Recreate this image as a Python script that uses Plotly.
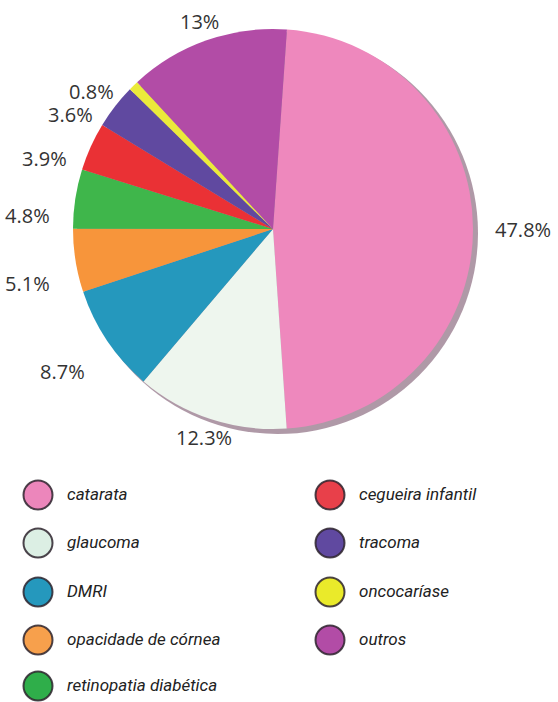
import math
import plotly.graph_objects as go

# ---- data ----
causes = ["catarata", "glaucoma", "DMRI", "opacidade de córnea", "retinopatia diabética",
          "cegueira infantil", "tracoma", "oncocaríase", "outros"]
shares = [47.8, 12.3, 8.7, 5.1, 4.8, 3.9, 3.6, 0.8, 13.0]
share_labels = ["47.8%", "12.3%", "8.7%", "5.1%", "4.8%", "3.9%", "3.6%", "0.8%", "13%"]
slice_colors = ["#ee88bd", "#eef6ee", "#2598bd", "#f7953b", "#3fb64b",
                "#ea3135", "#6049a0", "#ebea3a", "#b24ca6"]
legend_colors = ["#ec86bb", "#dcefe4", "#2598bd", "#f7a04c", "#2fae4a",
                 "#e8404a", "#6049a0", "#eaea2a", "#b24ca6"]

W, H = 558, 702
cx, cy, r = 273, 229, 200
start_deg = 4

fig = go.Figure()
fig.add_trace(go.Pie(
    labels=causes,
    values=shares,
    textinfo="none",
    marker=dict(colors=slice_colors, line=dict(width=0)),
    sort=False,
    direction="clockwise",
    rotation=start_deg,
    showlegend=False,
    hoverinfo="label+percent",
    domain=dict(x=[(cx - r) / W, (cx + r) / W], y=[(H - cy - r) / H, (H - cy + r) / H]),
))

shapes = []
# soft shadow / rim behind the pie
shapes.append(dict(type="circle", xref="paper", yref="paper", layer="below",
                   x0=(cx - r + 4) / W, x1=(cx + r + 5) / W,
                   y0=(H - cy - r - 5) / H, y1=(H - cy + r - 3) / H,
                   fillcolor="rgba(110,70,95,0.55)", line=dict(width=0)))

annotations = []
# percentage labels placed at each slice's mid-angle (derived from the values)
total = sum(shares)
cum = 0.0
R = r + 20
for val, lab in zip(shares, share_labels):
    mid = start_deg + (cum + val / 2) / total * 360.0
    cum += val
    t = math.radians(mid)
    s, c = math.sin(t), math.cos(t)
    px = cx + R * s
    py = cy - R * c
    if s > 0.4:
        xa, xs, ys = "left", 0, 0
    elif s < -0.4:
        xa, xs, ys = "right", -4, -20
    else:
        xa, xs, ys = "center", 0, 0
    annotations.append(dict(xref="paper", yref="paper", x=px / W, y=1 - py / H,
                            xanchor=xa, yanchor="middle", xshift=xs, yshift=ys,
                            showarrow=False, text=lab,
                            font=dict(family="Open Sans, Noto Sans, sans-serif",
                                      size=20, weight=500, color="#333333")))

row_y = [495, 543, 592, 640, 686]
for i, name in enumerate(causes):
    col = 0 if i < 5 else 1
    row = i if i < 5 else i - 5
    ccx = 38 if col == 0 else 330
    tx = 65 if col == 0 else 357
    yy = row_y[row]
    rr = 14.5
    shapes.append(dict(type="circle", xref="paper", yref="paper",
                       x0=(ccx - rr) / W, x1=(ccx + rr) / W,
                       y0=1 - (yy + rr) / H, y1=1 - (yy - rr) / H,
                       fillcolor=legend_colors[i],
                       line=dict(color="rgba(45,35,45,0.85)", width=2)))
    annotations.append(dict(xref="paper", yref="paper", x=tx / W, y=1 - (yy - 1) / H,
                            xanchor="left", yanchor="middle", showarrow=False,
                            text="<i>" + name + "</i>",
                            font=dict(family="Roboto, sans-serif",
                                      size=17, color="#222222")))

fig.update_layout(width=W, height=H, margin=dict(l=0, r=0, t=0, b=0),
                  paper_bgcolor="white", plot_bgcolor="white",
                  shapes=shapes, annotations=annotations)

fig.write_html("out.html")
